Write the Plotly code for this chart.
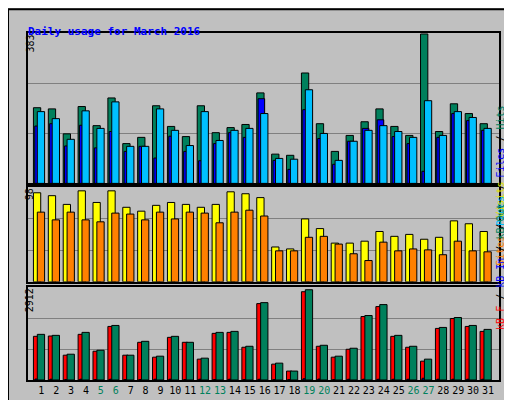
import plotly.graph_objects as go
from plotly.subplots import make_subplots

days = list(range(1, 32))
hits = [194, 191, 127, 197, 148, 219, 102, 118, 199, 146, 120, 199, 130, 143, 151, 232,
        75, 72, 283, 153, 82, 123, 158, 191, 146, 123, 383, 133, 204, 179, 153]
files = [184, 166, 113, 186, 141, 209, 95, 95, 191, 136, 97, 184, 110, 136, 141, 179,
         64, 62, 240, 128, 59, 108, 136, 148, 133, 118, 212, 123, 184, 169, 141]
pages = [147, 153, 96, 149, 91, 133, 82, 95, 65, 121, 82, 58, 102, 130, 118, 217,
         59, 36, 189, 115, 49, 108, 141, 163, 120, 102, 31, 118, 179, 161, 136]
visits = [92, 89, 80, 94, 82, 94, 77, 73, 79, 82, 80, 77, 80, 93, 91, 87,
          36, 34, 65, 55, 40, 40, 42, 52, 47, 49, 44, 46, 63, 60, 52]
sites = [72, 64, 72, 64, 62, 71, 70, 64, 72, 65, 72, 71, 61, 72, 74, 68,
         32, 32, 46, 47, 39, 29, 22, 41, 32, 34, 33, 28, 42, 32, 31]
kb_f = [1368, 1378, 777, 1430, 901, 1678, 777, 1181, 715, 1336, 1181, 653, 1461, 1492, 1026, 2393,
        497, 280, 2766, 1057, 715, 963, 1989, 2300, 1368, 1026, 590, 1616, 1927, 1678, 1523]
kb_in = [30, 25, 15, 25, 15, 25, 15, 15, 25, 25, 15, 25, 15, 25, 15, 25,
         15, 15, 40, 30, 15, 25, 25, 25, 25, 25, 55, 25, 25, 25, 25]
kb_out = [1430, 1399, 808, 1492, 932, 1709, 777, 1212, 746, 1368, 1181, 684, 1492, 1523, 1057, 2424,
          528, 280, 2828, 1088, 746, 995, 2020, 2362, 1399, 1057, 653, 1647, 1958, 1709, 1585]
weekend = [5, 6, 12, 13, 19, 20, 26, 27]

GREEN = "#00805c"
mono = "DejaVu Sans Mono"

fig = make_subplots(rows=3, cols=1, shared_xaxes=True)
line = dict(color="black", width=1)

def bars(vals, color, off, w, row):
    fig.add_trace(go.Bar(x=days, y=vals, marker=dict(color=color, line=line),
                         offset=off, width=w, hoverinfo="y"), row=row, col=1)

bars(hits, GREEN, -0.53, 0.49, 1)
bars(pages, "#0000ff", -0.44, 0.44, 1)
bars(files, "#00c0ff", -0.27, 0.49, 1)
bars(visits, "#ffff00", -0.53, 0.49, 2)
bars(sites, "#ff8000", -0.27, 0.49, 2)
bars(kb_f, "#ff0000", -0.53, 0.35, 3)
bars(kb_in, "#0000ff", -0.42, 0.15, 3)
bars(kb_out, GREEN, -0.27, 0.49, 3)

fig.update_layout(barmode="overlay", showlegend=False, width=512, height=400,
                  margin=dict(l=20, r=21, t=25, b=25),
                  paper_bgcolor="#c0c0c0", plot_bgcolor="#c0c0c0",
                  font=dict(family=mono, size=10, color="black"))

doms = [[0.5666, 1], [0.2829, 0.5563], [0, 0.2686]]
tops = [385.5, 98, 2920]
maxv = [383, 98, 2912]
for i in range(3):
    fig.update_yaxes(row=i + 1, col=1, domain=doms[i], range=[0, tops[i]],
                     tickvals=[maxv[i] / 3, maxv[i] * 2 / 3], showticklabels=False,
                     gridcolor="#808080", gridwidth=1, zeroline=False,
                     showline=True, mirror=True, linecolor="black", linewidth=2)
    fig.update_xaxes(row=i + 1, col=1, range=[0.105, 31.74], showgrid=False,
                     showline=True, mirror=True, linecolor="black", linewidth=2,
                     showticklabels=False, ticks="")

ticktext = [f"<span style='color:{GREEN}'>{d}</span>" if d in weekend else str(d) for d in days]
fig.update_xaxes(row=3, col=1, showticklabels=True, tickvals=days, ticktext=ticktext,
                 tickangle=0, tickfont=dict(family=mono, size=10, color="black"))

ann = [
    dict(x=18, y=15, text="<b>Daily usage for March 2016</b>", xanchor="left",
         font=dict(color="#0000ff", size=11)),
    dict(x=14, y=25, text="383", textangle=-90, yanchor="top"),
    dict(x=14, y=180, text="98", textangle=-90, yanchor="top"),
    dict(x=14, y=281, text="2912", textangle=-90, yanchor="top"),
    dict(x=500, y=97, textangle=-90,
         text=f"<span style='color:#00c0ff'>Pages</span> / <span style='color:#0000ff'>Files</span> / <span style='color:{GREEN}'>Hits</span>"),
    dict(x=500, y=218, textangle=-90,
         text="<span style='color:#ff8000'>Sites</span> / <span style='color:#e0e000'>Visits</span>"),
    dict(x=500, y=327, textangle=-90,
         text=f"<span style='color:#ff0000'>kB F</span> / <span style='color:#0000ff'>kB In</span> / <span style='color:{GREEN}'>kB Out</span>"),
]
for a in ann:
    px_x, px_y = a.pop("x"), a.pop("y")
    fig.add_annotation(x=(px_x - 20) / 471, y=(375 - px_y) / 350, xref="paper", yref="paper",
                       showarrow=False, **a)

fig.add_shape(type="rect", xref="paper", yref="paper",
              x0=-20 / 471, x1=491 / 471 + 20 / 471, y0=-24 / 350, y1=374 / 350,
              line=dict(color="black", width=2))

fig.write_html("out.html")
